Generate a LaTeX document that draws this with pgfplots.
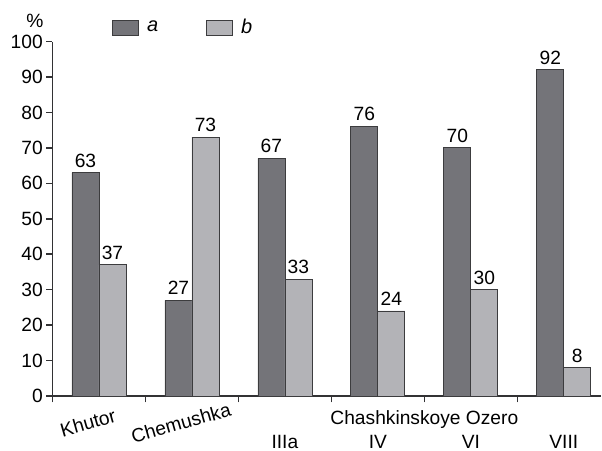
\documentclass[border=0pt]{standalone}
\usepackage{pgfplots}
\pgfplotsset{compat=1.18}
\usepackage{fontspec}
\setmainfont{Liberation Sans}

\definecolor{barA}{RGB}{116,116,121}
\definecolor{barB}{RGB}{179,179,183}
\definecolor{edgeC}{RGB}{60,60,62}
\definecolor{axisC}{RGB}{50,50,52}

\newcommand{\lblfont}{\fontsize{9.6}{11.5}\selectfont}

\begin{document}
\begin{tikzpicture}
\useasboundingbox (-26.25pt,-27.5pt) rectangle (274.75pt,198pt);
\begin{axis}[
  at={(0,0)}, anchor=south west,
  scale only axis,
  width=274.25pt, height=177.25pt,
  clip=false,
  ybar=0pt, bar width=13.5pt,
  xmin=-0.5, xmax=5.4,
  ymin=0, ymax=100,
  axis x line*=bottom, axis y line*=left,
  axis line style={axisC, line width=0.8pt},
  tick align=outside,
  major tick length=3.2pt,
  xtick style={draw=axisC, line width=0.8pt},
  ytick style={draw=axisC, line width=0.8pt},
  xtick={-0.5,0.5,1.5,2.5,3.5,4.5},
  xticklabels={,,,,,},
  ytick={0,10,...,100},
  ticklabel style={font=\lblfont},
  yticklabel style={inner sep=1.5pt},
  /pgf/number format/assume math mode=true,
  nodes near coords,
  every node near coord/.append style={font=\lblfont, color=black, inner sep=2.5pt},
  legend columns=2,
  legend style={at={(axis cs:0.14,103.9)}, anchor=west, draw=none, fill=none,
    inner sep=0pt, font=\fontsize{10}{12}\selectfont\itshape,
    /tikz/every odd column/.append style={column sep=2pt},
    /tikz/every even column/.append style={column sep=22pt}},
  legend image code/.code={\draw[#1] (0pt,-3.75pt) rectangle (13pt,3.75pt);},
]
\addplot[fill=barA, draw=edgeC, line width=0.4pt] coordinates {(0,63) (1,27) (2,67) (3,76) (4,70) (5,92)};
\addplot[fill=barB, draw=edgeC, line width=0.4pt] coordinates {(0,37) (1,73) (2,33) (3,24) (4,30) (5,8)};
\legend{a,b}

% group separators on the category axis
\draw[axisC, line width=0.8pt] (axis cs:-0.5,0) -- ++(0pt,-3.2pt);
\draw[axisC, line width=0.8pt] (axis cs:0.5,0) -- ++(0pt,-3.2pt);
\draw[axisC, line width=0.8pt] (axis cs:1.5,0) -- ++(0pt,-3.2pt);
\draw[axisC, line width=0.8pt] (axis cs:2.5,0) -- ++(0pt,-3.2pt);
\draw[axisC, line width=0.8pt] (axis cs:3.5,0) -- ++(0pt,-3.2pt);
\draw[axisC, line width=0.8pt] (axis cs:4.5,0) -- ++(0pt,-3.2pt);

\node[font=\lblfont] at (axis cs:-0.688,105.8) {\%};
\node[font=\lblfont, rotate=16] at (axis cs:-0.118,-7.6) {Khutor};
\node[font=\lblfont, rotate=16] at (axis cs:0.882,-7.6) {Chemushka};
\node[font=\lblfont] at (axis cs:3.5,-6.5) {Chashkinskoye Ozero};
\node[font=\lblfont] at (axis cs:2,-13) {IIIa};
\node[font=\lblfont] at (axis cs:3,-13) {IV};
\node[font=\lblfont] at (axis cs:4,-13) {VI};
\node[font=\lblfont] at (axis cs:5,-13) {VIII};
\end{axis}
\end{tikzpicture}
\end{document}
